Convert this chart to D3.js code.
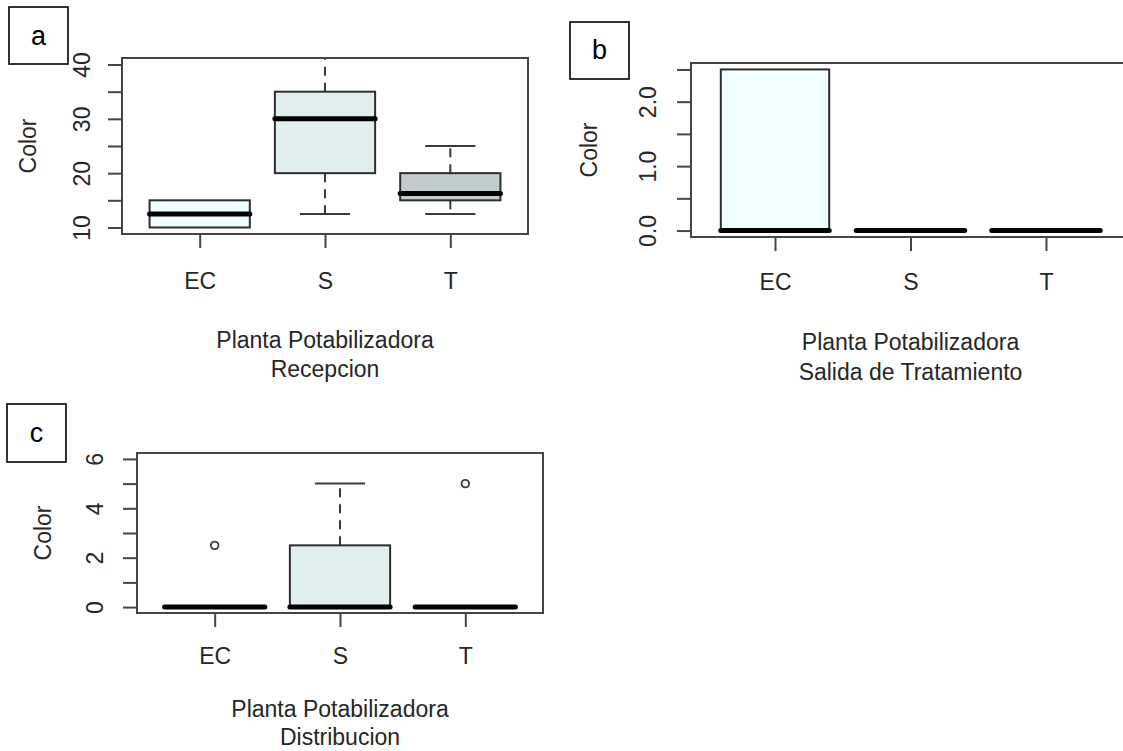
<!DOCTYPE html>
<html>
<head>
<meta charset="utf-8">
<script src="https://cdn.jsdelivr.net/npm/d3@7"></script>
<style>
  html, body { margin: 0; padding: 0; background: #ffffff; }
  svg { display: block; }
  text { font-family: "Liberation Sans", Arial, Helvetica, sans-serif; }
</style>
</head>
<body>
<svg id="chart" width="1123" height="751"></svg>
<script>
// ---------------- DATA ----------------
const categories = ["EC", "S", "T"];
const boxFills = ["#F0FFFF", "#E0EEEE", "#C1CDCD"];

// Panel a: Recepcion
const recepcionLow = [10, 12.5, 12.5];
const recepcionQ1 = [10, 20, 15];
const recepcionMedian = [12.5, 30, 16.25];
const recepcionQ3 = [15, 35, 20];
const recepcionHigh = [15, 41.2, 25];
const recepcionOutliers = [[], [], []];
const recepcionTicks = [10, 15, 20, 25, 30, 35, 40];
const recepcionTickLabels = ["10", "20", "30", "40"];

// Panel b: Salida de Tratamiento
const salidaLow = [0, 0, 0];
const salidaQ1 = [0, 0, 0];
const salidaMedian = [0, 0, 0];
const salidaQ3 = [2.5, 0, 0];
const salidaHigh = [2.5, 0, 0];
const salidaOutliers = [[], [], []];
const salidaTicks = [0, 0.5, 1, 1.5, 2, 2.5];
const salidaTickLabels = ["0.0", "1.0", "2.0"];

// Panel c: Distribucion
const distribLow = [0, 0, 0];
const distribQ1 = [0, 0, 0];
const distribMedian = [0, 0, 0];
const distribQ3 = [0, 2.5, 0];
const distribHigh = [0, 5, 0];
const distribOutliers = [[2.5], [], [5]];
const distribTicks = [0, 1, 2, 3, 4, 5, 6];
const distribTickLabels = ["0", "2", "4", "6"];

const yLabel = "Color";
const xTitleLine1 = "Planta Potabilizadora";

// ---------------- LAYOUT ----------------
const panels = [
  {
    letter: "a", letterBox: [9, 7, 59, 57], letterBase: 45,
    left: 122, right: 528, top: 58, bottom: 234,
    yDomain: [10, 40], tickFmt: d => String(d),
    ticks: recepcionTicks, tickLabels: recepcionTickLabels,
    tickBaseX: 90, titleYX: 36, catBase: 289, titleBase: [348, 377],
    subtitle: "Recepcion",
    low: recepcionLow, q1: recepcionQ1, med: recepcionMedian, q3: recepcionQ3,
    high: recepcionHigh, out: recepcionOutliers
  },
  {
    letter: "b", letterBox: [570, 22, 59, 57], letterBase: 59,
    left: 691, right: 1130, top: 63, bottom: 237,
    yDomain: [0, 2.5], tickFmt: d => d.toFixed(1),
    ticks: salidaTicks, tickLabels: salidaTickLabels,
    tickBaseX: 656, titleYX: 597, catBase: 290, titleBase: [350, 380],
    subtitle: "Salida de Tratamiento",
    low: salidaLow, q1: salidaQ1, med: salidaMedian, q3: salidaQ3,
    high: salidaHigh, out: salidaOutliers
  },
  {
    letter: "c", letterBox: [7, 404, 59, 58], letterBase: 442,
    left: 137, right: 543, top: 453, bottom: 613,
    yDomain: [0, 6], tickFmt: d => String(d),
    ticks: distribTicks, tickLabels: distribTickLabels,
    tickBaseX: 103, titleYX: 51, catBase: 664, titleBase: [717, 745],
    subtitle: "Distribucion",
    low: distribLow, q1: distribQ1, med: distribMedian, q3: distribQ3,
    high: distribHigh, out: distribOutliers
  }
];

const svg = d3.select("#chart");
const lineCol = "#3a3a3a";
const textCol = "#262626";
const fontSize = 23;

panels.forEach(p => {
  const g = svg.append("g");
  const [d0, d1] = p.yDomain;
  const ext = (d1 - d0) * 0.04;
  const y = d3.scaleLinear().domain([d0 - ext, d1 + ext]).range([p.bottom, p.top]);
  const n = categories.length;
  const xe = n * 0.04;
  const x = d3.scaleLinear().domain([0.5 - xe, n + 0.5 + xe]).range([p.left, p.right]);

  const [bx, by, bw, bh] = p.letterBox;
  g.append("rect").attr("x", bx).attr("y", by).attr("width", bw).attr("height", bh)
    .attr("fill", "#fff").attr("stroke", "#000").attr("stroke-width", 1.6);
  g.append("text").attr("x", bx + bw / 2).attr("y", p.letterBase)
    .attr("text-anchor", "middle").attr("font-size", 27).attr("fill", "#000").text(p.letter);

  categories.forEach((c, i) => {
    const cx = x(i + 1);
    const hw = x(i + 1 + 0.4) - cx;
    const cw = x(i + 1 + 0.2) - cx;
    if (p.high[i] > p.q3[i]) {
      g.append("line").attr("x1", cx).attr("x2", cx).attr("y1", y(p.q3[i])).attr("y2", y(p.high[i]))
        .attr("stroke", lineCol).attr("stroke-width", 2).attr("stroke-dasharray", "9,7");
      g.append("line").attr("x1", cx - cw).attr("x2", cx + cw).attr("y1", y(p.high[i])).attr("y2", y(p.high[i]))
        .attr("stroke", lineCol).attr("stroke-width", 2);
    }
    if (p.low[i] < p.q1[i]) {
      g.append("line").attr("x1", cx).attr("x2", cx).attr("y1", y(p.q1[i])).attr("y2", y(p.low[i]))
        .attr("stroke", lineCol).attr("stroke-width", 2).attr("stroke-dasharray", "9,7");
      g.append("line").attr("x1", cx - cw).attr("x2", cx + cw).attr("y1", y(p.low[i])).attr("y2", y(p.low[i]))
        .attr("stroke", lineCol).attr("stroke-width", 2);
    }
    if (p.q3[i] > p.q1[i]) {
      g.append("rect").attr("x", cx - hw).attr("y", y(p.q3[i]))
        .attr("width", 2 * hw).attr("height", y(p.q1[i]) - y(p.q3[i]))
        .attr("fill", boxFills[i]).attr("stroke", "#2e2e2e").attr("stroke-width", 2);
    }
    g.append("line").attr("x1", cx - hw).attr("x2", cx + hw)
      .attr("y1", y(p.med[i])).attr("y2", y(p.med[i]))
      .attr("stroke", "#000").attr("stroke-width", 5).attr("stroke-linecap", "round");
    p.out[i].forEach(v => {
      g.append("circle").attr("cx", cx).attr("cy", y(v)).attr("r", 3.8)
        .attr("fill", "none").attr("stroke", lineCol).attr("stroke-width", 1.8);
    });
  });

  g.append("rect").attr("x", p.left).attr("y", p.top)
    .attr("width", p.right - p.left).attr("height", p.bottom - p.top)
    .attr("fill", "none").attr("stroke", "#454545").attr("stroke-width", 2);

  const yAxis = d3.axisLeft(y).tickValues(p.ticks).tickSize(14).tickSizeOuter(0)
    .tickFormat(d => p.tickLabels.includes(p.tickFmt(d)) ? p.tickFmt(d) : "");
  const ya = g.append("g").attr("transform", `translate(${p.left},0)`).call(yAxis);
  ya.select(".domain").remove();
  ya.selectAll(".tick line").attr("stroke", "#454545").attr("stroke-width", 2);
  ya.selectAll(".tick text")
    .attr("transform", "rotate(-90)")
    .attr("x", 0).attr("y", -(p.left - p.tickBaseX)).attr("dy", 0)
    .attr("text-anchor", "middle")
    .attr("font-size", fontSize).attr("fill", textCol)
    .style("font-family", '"Liberation Sans", Arial, sans-serif');

  const xAxis = d3.axisBottom(x).tickValues(categories.map((c, i) => i + 1)).tickSize(14)
    .tickSizeOuter(0).tickFormat(d => categories[d - 1]);
  const xa = g.append("g").attr("transform", `translate(0,${p.bottom})`).call(xAxis);
  xa.select(".domain").remove();
  xa.selectAll(".tick line").attr("stroke", "#454545").attr("stroke-width", 2);
  xa.selectAll(".tick text")
    .attr("y", p.catBase - p.bottom).attr("dy", 0)
    .attr("font-size", fontSize).attr("fill", textCol)
    .style("font-family", '"Liberation Sans", Arial, sans-serif');

  const cy = (p.top + p.bottom) / 2;
  g.append("text").attr("transform", `translate(${p.titleYX},${cy}) rotate(-90)`)
    .attr("text-anchor", "middle").attr("font-size", fontSize).attr("fill", textCol).text(yLabel);

  const cx = (p.left + Math.min(p.right, 1130)) / 2;
  g.append("text").attr("x", cx).attr("y", p.titleBase[0]).attr("text-anchor", "middle")
    .attr("font-size", fontSize).attr("fill", textCol).text(xTitleLine1);
  g.append("text").attr("x", cx).attr("y", p.titleBase[1]).attr("text-anchor", "middle")
    .attr("font-size", fontSize).attr("fill", textCol).text(p.subtitle);
});
</script>
</body>
</html>
